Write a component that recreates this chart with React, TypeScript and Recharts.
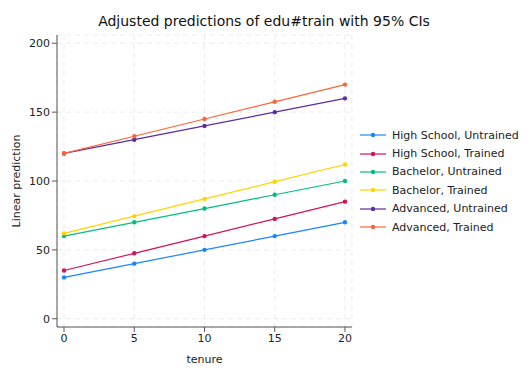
import { LineChart, Line, XAxis, YAxis, CartesianGrid, Legend, Label } from 'recharts';

const FONT = 'DejaVu Sans, sans-serif';
const AXIS = '#555555';
const GRID = '#ebebeb';

const TENURE = [0, 5, 10, 15, 20];
const Y_TICKS = [0, 50, 100, 150, 200];

const HS_UNTRAINED = [30, 40, 50, 60, 70];
const HS_TRAINED = [35, 47.5, 60, 72.5, 85];
const BA_UNTRAINED = [60, 70, 80, 90, 100];
const BA_TRAINED = [62, 74.5, 87, 99.5, 112];
const ADV_UNTRAINED = [120, 130, 140, 150, 160];
const ADV_TRAINED = [120, 132.5, 145, 157.5, 170];

const SERIES = [
  { key: 'hsU', name: 'High School, Untrained', color: '#1a85ff', values: HS_UNTRAINED },
  { key: 'hsT', name: 'High School, Trained', color: '#d41159', values: HS_TRAINED },
  { key: 'baU', name: 'Bachelor, Untrained', color: '#00bf7f', values: BA_UNTRAINED },
  { key: 'baT', name: 'Bachelor, Trained', color: '#ffd400', values: BA_TRAINED },
  { key: 'advU', name: 'Advanced, Untrained', color: '#5a2ea0', values: ADV_UNTRAINED },
  { key: 'advT', name: 'Advanced, Trained', color: '#ff6439', values: ADV_TRAINED },
];

const data = TENURE.map((t, i) => {
  const row: Record<string, number> = { tenure: t };
  SERIES.forEach((s) => {
    row[s.key] = s.values[i];
  });
  return row;
});

function LegendBox() {
  return (
    <div style={{ fontFamily: FONT, fontSize: 11, color: '#222' }}>
      {SERIES.map((s) => (
        <div key={s.key} style={{ display: 'flex', alignItems: 'center', height: 18.4 }}>
          <svg width={27} height={10} style={{ marginRight: 5 }}>
            <line x1={0} y1={5} x2={26} y2={5} stroke={s.color} strokeWidth={1.2} />
            <circle cx={13} cy={5} r={2.2} fill={s.color} />
          </svg>
          <span>{s.name}</span>
        </div>
      ))}
    </div>
  );
}

export default function App() {
  return (
    <div style={{ position: 'fixed', left: 0, top: 0, width: 528, height: 384, background: '#fff' }}>
      <div
        style={{
          position: 'absolute',
          left: 0,
          top: 13,
          width: 528,
          textAlign: 'center',
          fontFamily: FONT,
          fontSize: 14,
          color: '#111',
        }}
      >
        Adjusted predictions of edu#train with 95% CIs
      </div>
      <LineChart width={528} height={384} data={data} margin={{ top: 35, right: 176, bottom: 0, left: 0 }}>
        <CartesianGrid stroke={GRID} strokeDasharray="5 4" />
        <XAxis
          dataKey="tenure"
          type="number"
          domain={[-0.5, 20.5]}
          ticks={TENURE}
          height={57}
          stroke={AXIS}
          tickSize={5}
          tick={{ fontFamily: FONT, fontSize: 11, fill: '#222' }}
        >
          <Label value="tenure" position="insideBottom" offset={21} style={{ fontFamily: FONT, fontSize: 11, fill: '#222' }} />
        </XAxis>
        <YAxis
          type="number"
          domain={[-6, 206]}
          ticks={Y_TICKS}
          width={57}
          stroke={AXIS}
          tickSize={5}
          tick={{ fontFamily: FONT, fontSize: 11, fill: '#222' }}
        >
          <Label
            value="Linear prediction"
            angle={-90}
            position="insideLeft"
            offset={16}
            style={{ fontFamily: FONT, fontSize: 11, fill: '#222', textAnchor: 'middle' }}
          />
        </YAxis>
        <Legend
          layout="horizontal"
          align="center"
          verticalAlign="middle"
          wrapperStyle={{ left: 360, top: 126, width: 168, height: 112 }}
          content={() => <LegendBox />}
        />
        {SERIES.map((s) => (
          <Line
            key={s.key}
            dataKey={s.key}
            name={s.name}
            stroke={s.color}
            strokeWidth={1.2}
            dot={{ r: 2.2, fill: s.color, stroke: s.color, strokeWidth: 0 }}
            activeDot={false}
            isAnimationActive={false}
          />
        ))}
      </LineChart>
    </div>
  );
}
